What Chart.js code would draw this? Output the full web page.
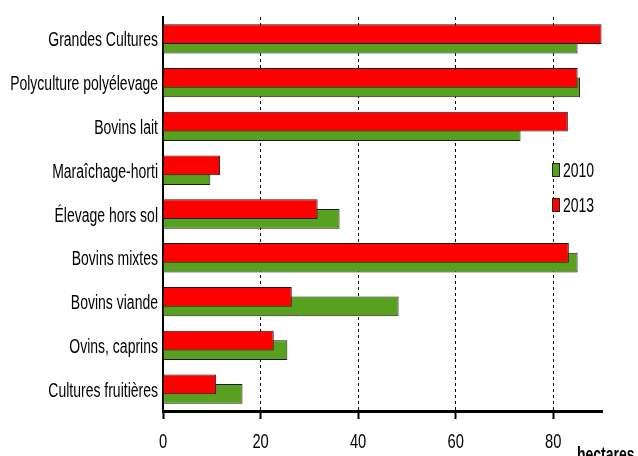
<!DOCTYPE html>
<html><head><meta charset="utf-8">
<script src="https://cdn.jsdelivr.net/npm/chart.js@4/dist/chart.umd.min.js"></script>
<style>
html,body{margin:0;padding:0;background:#fff;overflow:hidden;}
canvas{display:block;}
</style>
</head><body>
<canvas id="c" width="638" height="456"></canvas>
<script>
const categories = ['Grandes Cultures','Polyculture polyélevage','Bovins lait','Maraîchage-horti','Élevage hors sol','Bovins mixtes','Bovins viande','Ovins, caprins','Cultures fruitières'];
const values2013 = [89.9, 85.0, 83.0, 11.7, 31.7, 83.2, 26.4, 22.7, 10.9];
const values2010 = [85.0, 85.5, 73.3, 9.7, 36.2, 85.0, 48.3, 25.5, 16.3];
const xTicks = [0, 20, 40, 60, 80];
const unitLabel = 'hectares';

const FONT = "'Liberation Sans', Arial, sans-serif";
const SX = 0.7; // horizontal condensing of text, like the narrow font of the original

const condensePlugin = {
  id: 'condense',
  beforeInit(chart) {
    const ctx = chart.ctx;
    const orig = ctx.fillText.bind(ctx);
    ctx.fillText = function (text, x, y, maxWidth) {
      ctx.save();
      ctx.translate(x, y);
      ctx.scale(SX, 1);
      if (maxWidth === undefined || maxWidth === null) orig(text, 0, 0);
      else orig(text, 0, 0, maxWidth / SX);
      ctx.restore();
    };
  }
};

const legendPlugin = {
  id: 'insideLegend',
  afterDraw(chart) {
    const ctx = chart.ctx;
    const ds = chart.data.datasets;
    // legend order: 2010 then 2013
    const order = [1, 0];
    ctx.save();
    ctx.font = '20px ' + FONT;
    ctx.textAlign = 'left';
    ctx.textBaseline = 'alphabetic';
    order.forEach((di, i) => {
      const y = 163 + i * 35;
      ctx.fillStyle = ds[di].backgroundColor;
      ctx.fillRect(552, y, 8, 14);
      ctx.strokeStyle = '#222';
      ctx.lineWidth = 1;
      ctx.strokeRect(552.5, y + 0.5, 7, 13);
      ctx.fillStyle = '#000';
      ctx.fillText(ds[di].label, 563, y + 14);
    });
    ctx.font = 'bold 20px ' + FONT;
    ctx.fillText(unitLabel, 577, 460.5);
    ctx.restore();
  }
};

new Chart(document.getElementById('c'), {
  type: 'bar',
  data: {
    labels: categories,
    datasets: [
      {label: '2013', data: values2013, backgroundColor: '#ff0000', borderColor: '#1a1a1a', borderWidth: 1},
      {label: '2010', data: values2010, backgroundColor: '#58a01f', borderColor: '#1a1a1a', borderWidth: 1}
    ]
  },
  options: {
    indexAxis: 'y',
    responsive: false,
    animation: false,
    devicePixelRatio: 1,
    categoryPercentage: 0.438,
    barPercentage: 2.06,
    layout: {padding: {top: 12, right: 36, left: 0, bottom: 0}},
    plugins: {legend: {display: false}, tooltip: {enabled: false}},
    scales: {
      x: {
        min: 0, max: 90,
        afterBuildTicks: s => { s.ticks = xTicks.map(v => ({value: v})); },
        afterFit: s => { s.height = 45; },
        ticks: {font: {family: FONT, size: 21}, color: '#000', padding: 11, maxRotation: 0},
        grid: {color: '#000', lineWidth: 1, drawTicks: true, tickLength: 8, tickColor: '#000', tickWidth: 2, tickBorderDash: []},
        border: {display: true, color: '#000', width: 3, dash: [3, 3]}
      },
      y: {
        afterFit: s => { s.width = 163; },
        ticks: {font: {family: FONT, size: 20}, color: '#000', padding: 5, labelOffset: 2},
        grid: {display: false, drawTicks: false},
        border: {display: true, color: '#000', width: 2}
      }
    }
  },
  plugins: [condensePlugin, legendPlugin]
});
</script>
</body></html>
